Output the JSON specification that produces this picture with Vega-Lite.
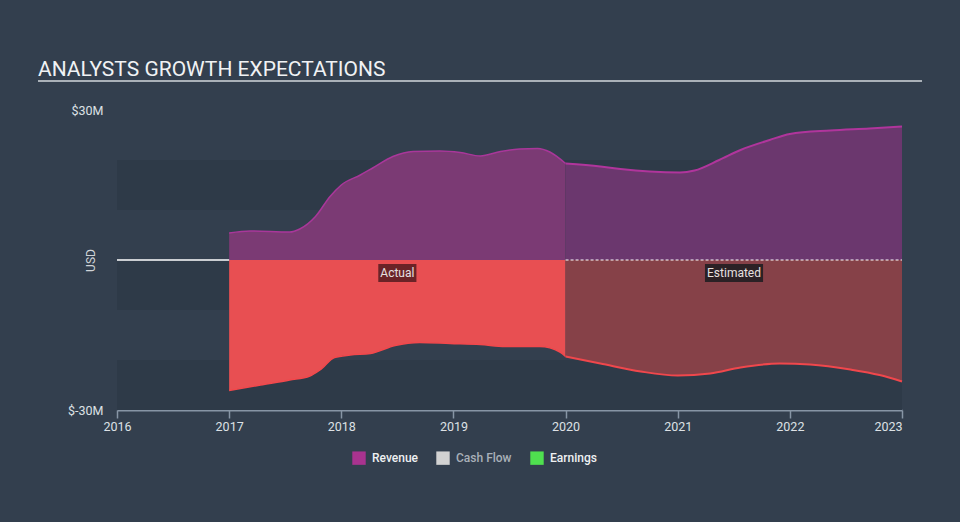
{
  "$schema": "https://vega.github.io/schema/vega-lite/v6.json",
  "width": 785,
  "height": 300,
  "autosize": "none",
  "padding": {"left": 117, "top": 110, "right": 58, "bottom": 112},
  "background": "#333f4e",
  "title": {
    "text": "ANALYSTS GROWTH EXPECTATIONS",
    "anchor": "start",
    "frame": "group",
    "dx": -79,
    "dy": 22,
    "offset": 5,
    "font": "Roboto",
    "fontSize": 21,
    "fontWeight": "normal",
    "color": "#f0f2f4",
    "baseline": "alphabetic"
  },
  "config": {"view": {"stroke": null}, "font": "Roboto"},
  "datasets": {
    "one": [{}],
    "bands": [
      {"x": 2016, "x2": 2023, "y": 20, "y2": 10},
      {"x": 2016, "x2": 2023, "y": 0, "y2": -10},
      {"x": 2016, "x2": 2023, "y": -20, "y2": -30}
    ],
    "revA": [
      {"x": 2017.0, "y": 5.4},
      {"x": 2017.19, "y": 5.8},
      {"x": 2017.54, "y": 5.6},
      {"x": 2017.63, "y": 6.2},
      {"x": 2017.77, "y": 8.7},
      {"x": 2017.9, "y": 12.7},
      {"x": 2018.0, "y": 15.0},
      {"x": 2018.17, "y": 17.0},
      {"x": 2018.28, "y": 18.4},
      {"x": 2018.46, "y": 20.7},
      {"x": 2018.64, "y": 21.7},
      {"x": 2018.88, "y": 21.8},
      {"x": 2019.06, "y": 21.5},
      {"x": 2019.24, "y": 20.8},
      {"x": 2019.42, "y": 21.7},
      {"x": 2019.59, "y": 22.2},
      {"x": 2019.75, "y": 22.3},
      {"x": 2019.86, "y": 21.6},
      {"x": 2020.0, "y": 19.3}
    ],
    "revE": [
      {"x": 2020.0, "y": 19.3},
      {"x": 2020.31, "y": 18.7},
      {"x": 2020.49, "y": 18.2},
      {"x": 2020.75, "y": 17.7},
      {"x": 2021.02, "y": 17.5},
      {"x": 2021.15, "y": 17.9},
      {"x": 2021.37, "y": 20.0},
      {"x": 2021.56, "y": 22.0},
      {"x": 2021.82, "y": 24.0},
      {"x": 2022.0, "y": 25.2},
      {"x": 2022.36, "y": 25.9},
      {"x": 2022.71, "y": 26.3},
      {"x": 2023.0, "y": 26.7}
    ],
    "earnA": [
      {"x": 2017.0, "y": -26.1},
      {"x": 2017.28, "y": -25.0},
      {"x": 2017.54, "y": -24.0},
      {"x": 2017.72, "y": -23.2},
      {"x": 2017.81, "y": -22.0},
      {"x": 2017.94, "y": -19.5},
      {"x": 2018.08, "y": -19.0},
      {"x": 2018.26, "y": -18.7},
      {"x": 2018.48, "y": -17.1},
      {"x": 2018.7, "y": -16.5},
      {"x": 2018.97, "y": -16.7},
      {"x": 2019.24, "y": -16.9},
      {"x": 2019.46, "y": -17.3},
      {"x": 2019.77, "y": -17.3},
      {"x": 2019.95, "y": -18.4},
      {"x": 2020.0, "y": -19.3}
    ],
    "earnE": [
      {"x": 2020.0, "y": -19.3},
      {"x": 2020.31, "y": -20.7},
      {"x": 2020.67, "y": -22.3},
      {"x": 2021.0, "y": -23.1},
      {"x": 2021.29, "y": -22.7},
      {"x": 2021.56, "y": -21.5},
      {"x": 2021.91, "y": -20.7},
      {"x": 2022.18, "y": -20.9},
      {"x": 2022.54, "y": -21.9},
      {"x": 2022.8, "y": -23.0},
      {"x": 2023.0, "y": -24.3}
    ],
    "boxA": [{"x": 2018.33, "x2": 2018.67, "y": -0.8, "y2": -4.4}],
    "boxE": [{"x": 2021.243, "x2": 2021.761, "y": -0.8, "y2": -4.4}],
    "labels": [
      {"x": 2018.5, "y": -2.5, "label": "Actual"},
      {"x": 2021.502, "y": -2.5, "label": "Estimated"}
    ],
    "legend": [{"s": "Revenue"}, {"s": "Cash Flow"}, {"s": "Earnings"}]
  },
  "layer": [
    {
      "data": {"name": "bands"},
      "mark": {"type": "rect", "color": "#2e3a48"},
      "encoding": {
        "x": {
          "field": "x",
          "type": "quantitative",
          "scale": {"domain": [2016, 2023], "nice": false, "zero": false},
          "axis": {
            "values": [2016, 2017, 2018, 2019, 2020, 2021, 2022, 2023],
            "format": "d",
            "title": null,
            "grid": false,
            "domainColor": "#8795a5",
            "domainWidth": 2,
            "tickColor": "#8795a5",
            "tickWidth": 1.5,
            "tickSize": 8,
            "labelColor": "#dde1e5",
            "labelFontSize": 12.5,
            "labelFont": "Roboto",
            "labelPadding": 2,
            "labelAlign": {"condition": {"test": "datum.value == 2023", "value": "right"}, "value": "center"}
          }
        },
        "x2": {"field": "x2"},
        "y": {
          "field": "y",
          "type": "quantitative",
          "scale": {"domain": [-30, 30], "nice": false},
          "axis": {
            "values": [-30, 30],
            "labelExpr": "'$' + datum.value + 'M'",
            "domain": false,
            "ticks": false,
            "grid": false,
            "labelPadding": 14,
            "labelColor": "#dde1e5",
            "labelFontSize": 12.5,
            "labelFont": "Roboto",
            "title": "USD",
            "titleFont": "Roboto",
            "titleColor": "#d0d4d8",
            "titleFontSize": 12,
            "titleFontWeight": "normal",
            "titleAngle": -90,
            "titleX": -23,
            "titleY": 150,
            "titleAlign": "center",
            "titleBaseline": "alphabetic"
          }
        },
        "y2": {"field": "y2"}
      }
    },
    {
      "data": {"name": "revA"},
      "mark": {"type": "area", "opacity": 1, "interpolate": "monotone", "color": "#7b3a74", "line": {"color": "#a9379a", "strokeWidth": 1.5}},
      "encoding": {
        "x": {"field": "x", "type": "quantitative"},
        "y": {"field": "y", "type": "quantitative"},
        "y2": {"datum": 0}
      }
    },
    {
      "data": {"name": "revE"},
      "mark": {"type": "area", "opacity": 1, "interpolate": "monotone", "color": "#6b376e", "line": {"color": "#b0359c", "strokeWidth": 2}},
      "encoding": {
        "x": {"field": "x", "type": "quantitative"},
        "y": {"field": "y", "type": "quantitative"},
        "y2": {"datum": 0}
      }
    },
    {
      "data": {"name": "earnA"},
      "mark": {"type": "area", "opacity": 1, "interpolate": "monotone", "color": "#e84f52", "line": {"color": "#f2484c", "strokeWidth": 1.5}},
      "encoding": {
        "x": {"field": "x", "type": "quantitative"},
        "y": {"field": "y", "type": "quantitative"},
        "y2": {"datum": 0}
      }
    },
    {
      "data": {"name": "earnE"},
      "mark": {"type": "area", "opacity": 1, "interpolate": "monotone", "color": "#864148", "line": {"color": "#f0474c", "strokeWidth": 2}},
      "encoding": {
        "x": {"field": "x", "type": "quantitative"},
        "y": {"field": "y", "type": "quantitative"},
        "y2": {"datum": 0}
      }
    },
    {
      "data": {"name": "one"},
      "mark": {"type": "rule", "color": "#ffffff", "strokeWidth": 1.5},
      "encoding": {"x": {"datum": 2016}, "x2": {"datum": 2017}, "y": {"datum": 0}}
    },
    {
      "data": {"name": "one"},
      "mark": {"type": "rule", "color": "#ffffff", "strokeWidth": 1, "strokeDash": [3, 2]},
      "encoding": {"x": {"datum": 2020}, "x2": {"datum": 2023}, "y": {"datum": 0}}
    },
    {
      "data": {"name": "boxA"},
      "mark": {"type": "rect", "color": "#6a2327"},
      "encoding": {
        "x": {"field": "x", "type": "quantitative"},
        "x2": {"field": "x2"},
        "y": {"field": "y", "type": "quantitative"},
        "y2": {"field": "y2"}
      }
    },
    {
      "data": {"name": "boxE"},
      "mark": {"type": "rect", "color": "#2b2125"},
      "encoding": {
        "x": {"field": "x", "type": "quantitative"},
        "x2": {"field": "x2"},
        "y": {"field": "y", "type": "quantitative"},
        "y2": {"field": "y2"}
      }
    },
    {
      "data": {"name": "labels"},
      "mark": {"type": "text", "font": "Roboto", "fontSize": 12, "color": "#e6e0e0", "align": "center", "baseline": "middle"},
      "encoding": {
        "x": {"field": "x", "type": "quantitative"},
        "y": {"field": "y", "type": "quantitative"},
        "text": {"field": "label"}
      }
    },
    {
      "data": {"name": "one"},
      "mark": {"type": "rule", "color": "#aab1b8", "strokeWidth": 2, "clip": false},
      "encoding": {"x": {"datum": 2015.2955}, "x2": {"datum": 2023.1785}, "y": {"datum": 35.8}}
    },
    {
      "data": {"name": "legend"},
      "mark": {"type": "point", "filled": true, "shape": "square", "opacity": 0},
      "encoding": {
        "color": {
          "field": "s",
          "type": "nominal",
          "scale": {"domain": ["Revenue", "Cash Flow", "Earnings"], "range": ["#a9338f", "#d2d2d2", "#4fe04f"]},
          "legend": {
            "title": null,
            "orient": "none",
            "legendX": 235,
            "legendY": 341,
            "direction": "horizontal",
            "symbolType": "square",
            "symbolSize": 180,
            "symbolOpacity": 1,
            "symbolStrokeWidth": 0,
            "labelFont": "Roboto",
            "labelFontSize": 12,
            "labelFontWeight": 500,
            "labelOffset": 6,
            "columnPadding": 18,
            "padding": 0,
            "labelColor": "#eef0f2",
            "encode": {
              "labels": {"update": {"fill": {"signal": "datum.label == 'Cash Flow' ? '#a9b0b8' : '#eef0f2'"}}}
            }
          }
        }
      }
    }
  ]
}
